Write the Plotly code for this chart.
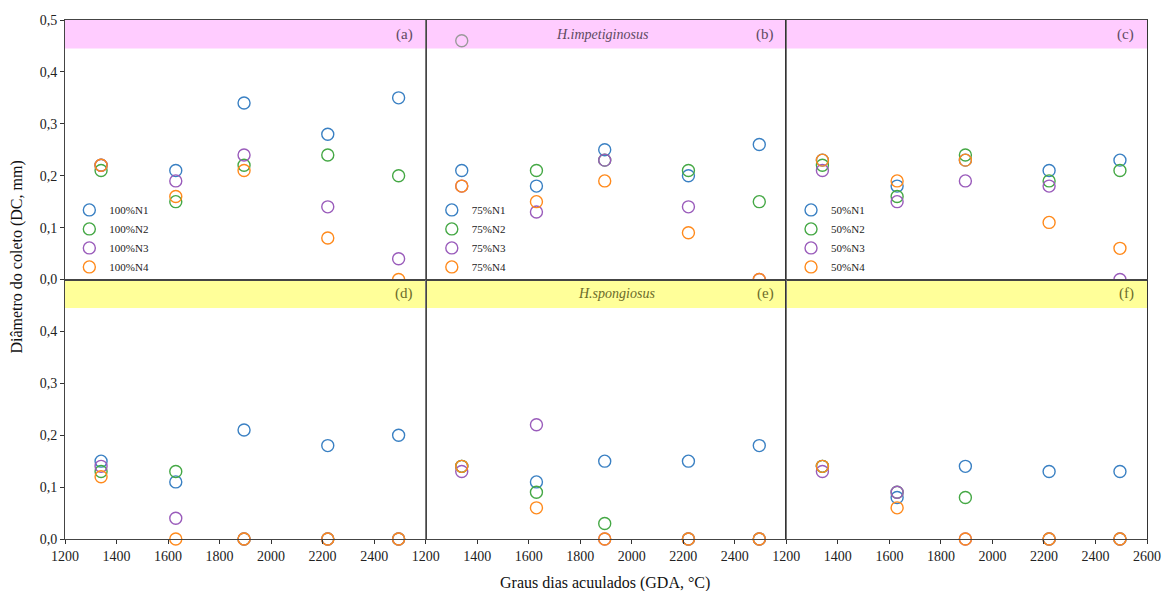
import plotly.graph_objects as go

# ---- data ----
gda = [1340, 1630, 1895, 2220, 2495]
series_names = ["N1", "N2", "N3", "N4"]
levels = ["100%", "75%", "50%"]

# H. impetiginosus (top row)
a_N1 = [0.22, 0.21, 0.34, 0.28, 0.35]
a_N2 = [0.21, 0.15, 0.22, 0.24, 0.20]
a_N3 = [0.22, 0.19, 0.24, 0.14, 0.04]
a_N4 = [0.22, 0.16, 0.21, 0.08, 0.00]

b_N1 = [0.21, 0.18, 0.25, 0.20, 0.26]
b_N2 = [None, 0.21, 0.23, 0.21, 0.15]
b_N3 = [0.18, 0.13, 0.23, 0.14, 0.00]
b_N4 = [0.18, 0.15, 0.19, 0.09, 0.00]
b_outlier_x = [1340]
b_outlier_y = [0.46]

c_N1 = [0.23, 0.18, 0.23, 0.21, 0.23]
c_N2 = [0.22, 0.16, 0.24, 0.19, 0.21]
c_N3 = [0.21, 0.15, 0.19, 0.18, 0.00]
c_N4 = [0.23, 0.19, 0.23, 0.11, 0.06]

# H. spongiosus (bottom row)
d_N1 = [0.15, 0.11, 0.21, 0.18, 0.20]
d_N2 = [0.13, 0.13, 0.00, 0.00, 0.00]
d_N3 = [0.14, 0.04, 0.00, 0.00, 0.00]
d_N4 = [0.12, 0.00, 0.00, 0.00, 0.00]

e_N1 = [0.14, 0.11, 0.15, 0.15, 0.18]
e_N2 = [0.14, 0.09, 0.03, 0.00, 0.00]
e_N3 = [0.13, 0.22, 0.00, 0.00, 0.00]
e_N4 = [0.14, 0.06, 0.00, 0.00, 0.00]

f_N1 = [0.14, 0.08, 0.14, 0.13, 0.13]
f_N2 = [0.14, 0.09, 0.08, 0.00, 0.00]
f_N3 = [0.13, 0.09, 0.00, 0.00, 0.00]
f_N4 = [0.14, 0.06, 0.00, 0.00, 0.00]

panel_labels = ["(a)", "(b)", "(c)", "(d)", "(e)", "(f)"]
species = ["H.impetiginosus", "H.spongiosus"]
y_ticks_top = [0.0, 0.1, 0.2, 0.3, 0.4, 0.5]
y_ticks_bottom = [0.0, 0.1, 0.2, 0.3, 0.4]
x_ticks_short = [1200, 1400, 1600, 1800, 2000, 2200, 2400]
x_ticks_full = [1200, 1400, 1600, 1800, 2000, 2200, 2400, 2600]

panels = [
    [a_N1, a_N2, a_N3, a_N4],
    [b_N1, b_N2, b_N3, b_N4],
    [c_N1, c_N2, c_N3, c_N4],
    [d_N1, d_N2, d_N3, d_N4],
    [e_N1, e_N2, e_N3, e_N4],
    [f_N1, f_N2, f_N3, f_N4],
]

colors = ["#3a80c3", "#45a845", "#9a5cbb", "#ff8a1c"]
FONT = "Liberation Serif"

fig = go.Figure()

for p, data in enumerate(panels):
    row, col = divmod(p, 3)
    ax = "" if p == 0 else str(p + 1)
    for s, ys in enumerate(data):
        fig.add_trace(go.Scatter(
            x=gda, y=ys, mode="markers",
            name=levels[col] + series_names[s],
            marker=dict(symbol="circle-open", size=12, color=colors[s],
                        line=dict(width=1.4, color=colors[s])),
            xaxis="x" + ax, yaxis="y" + ax,
            showlegend=(row == 0),
            legend=("legend" if col == 0 else "legend" + str(col + 1)),
            cliponaxis=(row == 0),
        ))
    if p == 1:
        fig.add_trace(go.Scatter(
            x=b_outlier_x, y=b_outlier_y, mode="markers",
            marker=dict(symbol="circle-open", size=12, color="#9a9a9a",
                        line=dict(width=1.4, color="#9a9a9a")),
            xaxis="x2", yaxis="y2", showlegend=False,
        ))

layout = dict(
    width=1162, height=591,
    margin=dict(l=65, r=15, t=20, b=52, autoexpand=False),
    paper_bgcolor="white", plot_bgcolor="white",
    separators=",.",
    font=dict(family=FONT, size=14, color="#222"),
    showlegend=True,
)

line_cols = ["#444444", "#777777", "#333333"]
for p in range(6):
    row, col = divmod(p, 3)
    ax = "" if p == 0 else str(p + 1)
    xd = [col / 3, (col + 1) / 3]
    yd = [0.5, 1.0] if row == 0 else [0.0, 0.5]
    xa = dict(domain=xd, range=[1200, 2600], anchor="y" + ax, automargin=False,
              showline=True, mirror=True, linecolor="#444444", linewidth=1,
              showgrid=False, zeroline=False)
    if row == 1:
        xa.update(tickmode="array",
                  tickvals=(x_ticks_full if col == 2 else x_ticks_short),
                  ticks="outside", ticklen=4, tickcolor="#333",
                  tickfont=dict(family=FONT, size=14, color="#222"))
    else:
        xa.update(showticklabels=False, ticks="")
    ya = dict(domain=yd, range=[0, 0.5], anchor="x" + ax, automargin=False,
              showline=True, mirror=True, linecolor=line_cols[col], linewidth=1,
              showgrid=False, zeroline=False)
    if col == 0:
        ya.update(tickmode="array",
                  tickvals=(y_ticks_top if row == 0 else y_ticks_bottom),
                  tickformat=".1f", ticks="outside", ticklen=4, tickcolor="#333",
                  tickfont=dict(family=FONT, size=14, color="#222"))
    else:
        ya.update(showticklabels=False, ticks="")
    layout["xaxis" + ax] = xa
    layout["yaxis" + ax] = ya

shapes = []
annotations = []
band_cols = ["#ffccff", "#ffff99"]
for row in range(2):
    yref = "y" if row == 0 else "y4"
    shapes.append(dict(type="rect", xref="paper", yref=yref,
                       x0=0, x1=1, y0=0.445, y1=0.5,
                       fillcolor=band_cols[row], line=dict(width=0),
                       layer="below"))

text_cols = ["#5e4a62", "#6b6b2a"]
for p in range(6):
    row, col = divmod(p, 3)
    ax = "" if p == 0 else str(p + 1)
    annotations.append(dict(
        text=panel_labels[p], xref="x" + ax + " domain", yref="y" + ax,
        x=0.97, y=0.4725, showarrow=False,
        font=dict(family=FONT, size=15, color=text_cols[row])))

annotations.append(dict(text="<i>" + species[0] + "</i>", xref="x2 domain", yref="y2",
                        x=0.49, y=0.4725, showarrow=False,
                        font=dict(family=FONT, size=14, color=text_cols[0])))
annotations.append(dict(text="<i>" + species[1] + "</i>", xref="x5 domain", yref="y5",
                        x=0.53, y=0.4725, showarrow=False,
                        font=dict(family=FONT, size=14, color=text_cols[1])))

annotations.append(dict(text="Diâmetro do coleto (DC, mm)", xref="paper", yref="paper",
                        x=-0.044, y=0.543, textangle=-90, showarrow=False,
                        xanchor="center", yanchor="middle",
                        font=dict(family=FONT, size=16, color="#111")))
annotations.append(dict(text="Graus dias acuulados (GDA, °C)", xref="paper", yref="paper",
                        x=0.4995, y=-0.085, showarrow=False, xanchor="center", yanchor="middle",
                        font=dict(family=FONT, size=16, color="#111")))

layout["shapes"] = shapes
layout["annotations"] = annotations

leg_common = dict(bgcolor="rgba(0,0,0,0)", borderwidth=0,
                  font=dict(family=FONT, size=11, color="#222"),
                  yanchor="top", xanchor="left", tracegroupgap=0)
layout["legend"] = dict(x=0.004, y=0.662, **leg_common)
layout["legend2"] = dict(x=0.339, y=0.662, **leg_common)
layout["legend3"] = dict(x=0.671, y=0.662, **leg_common)

fig.update_layout(**layout)
fig.write_html("out.html")
